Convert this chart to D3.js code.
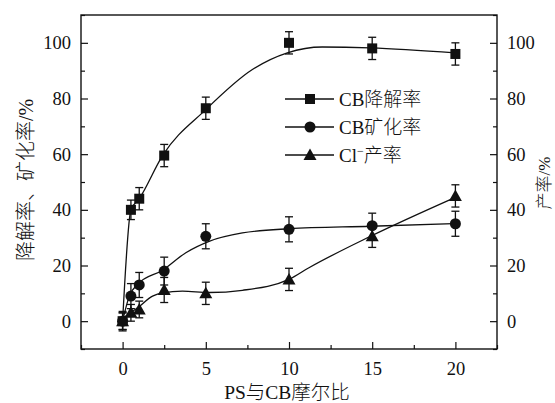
<!DOCTYPE html>
<html>
<head>
<meta charset="utf-8">
<script src="https://cdn.jsdelivr.net/npm/d3@7"></script>
<style>
  body { margin: 0; background: #fff; }
  svg text { font-family: 'Liberation Serif', 'Noto Sans CJK SC', serif; fill: #111; }
</style>
</head>
<body>
<svg id="canvas" width="555" height="403"></svg>
<script>
// Data
let ratios = [0, 0.5, 1, 2.5, 5, 10, 15, 20];
let degradation = [0, 40, 44, 59.5, 76.5, 100, 98, 96];
let degradationErr = [3, 3.5, 4, 4, 4, 4, 4, 4];
let mineral = [0, 9, 13, 18, 30.5, 33, 34.3, 35];
let mineralErr = [3.5, 4.5, 4.5, 5, 4.5, 4.5, 4.5, 4.5];
let chloride = [0, 3, 4.2, 11.2, 10, 15, 30.5, 45];
let chlorideErr = [3, 3, 3, 4.5, 4, 4, 4, 4];

// Smooth fitted curves
let degradationFitX = [0, 0.5, 1, 2.4, 5, 7.8, 9.9, 12, 14.9, 20];
let degradationFitY = [0, 40, 44, 59.5, 76, 90.4, 96.4, 98.5, 98.2, 96.4];
let mineralFitX = [0, 0.4, 0.9, 2.4, 3.8, 5.2, 7.2, 10, 14.9, 20];
let mineralFitY = [0, 9, 13.2, 18.3, 24.6, 28.7, 31.7, 33.2, 34.1, 35.1];
let chlorideFitX = [0, 0.9, 1.8, 2.4, 3.6, 5.2, 7.2, 10, 11.2, 14.9, 20];
let chlorideFitY = [1, 4.8, 9, 10.2, 10.8, 10.3, 11.1, 15, 19.2, 30.5, 44.5];

let xTicks = [0, 5, 10, 15, 20];
let xMinor = [-2.5, 2.5, 7.5, 12.5, 17.5, 22.5];
let yTicks = [0, 20, 40, 60, 80, 100];
let yMinor = [-10, 10, 30, 50, 70, 90, 110];

let legendNames = ['CB降解率', 'CB矿化率', 'Cl'];

let canvas = d3.select('#canvas');

let plotLeft = 81, plotRight = 497, plotTop = 15, plotBottom = 349;
let x = d3.scaleLinear().domain([-2.5, 22.5]).range([plotLeft, plotRight]);
let y = d3.scaleLinear().domain([-10, 110]).range([plotBottom, plotTop]);

// Axes (ticks point inward)
let addAxis = (axisFn, scale, ticks, minor, transform, labelStyle) => {
    let g = canvas.append('g').attr('transform', transform);
    g.call(axisFn(scale).tickValues(ticks).tickSizeInner(-7).tickSizeOuter(0)
        .tickPadding(10).tickFormat(d3.format('d')));
    g.select('.domain').remove();
    g.selectAll('.tick line').attr('stroke', '#111').attr('stroke-width', 1.2);
    g.selectAll('.tick text').attr('font-size', 18.5).attr('fill', '#111')
        .style('font-family', "'Liberation Serif', serif");
    if (labelStyle) labelStyle(g);
    let m = canvas.append('g').attr('transform', transform);
    m.call(axisFn(scale).tickValues(minor).tickSizeInner(-4).tickSizeOuter(0).tickFormat(''));
    m.select('.domain').remove();
    m.selectAll('.tick line').attr('stroke', '#111').attr('stroke-width', 1.2);
};

addAxis(d3.axisBottom, x, xTicks, xMinor, `translate(0,${plotBottom})`,
    (g) => g.selectAll('.tick text').attr('dy', '0.85em'));
addAxis(d3.axisLeft, y, yTicks, yMinor, `translate(${plotLeft},0)`);
addAxis(d3.axisRight, y, yTicks, yMinor, `translate(${plotRight},0)`);

// Frame
canvas.append('rect')
    .attr('x', plotLeft).attr('y', plotTop)
    .attr('width', plotRight - plotLeft).attr('height', plotBottom - plotTop)
    .attr('fill', 'none').attr('stroke', '#111').attr('stroke-width', 1.4);

// Axis titles
canvas.append('text')
    .attr('x', (plotLeft + plotRight) / 2 - 2).attr('y', 399)
    .attr('text-anchor', 'middle').attr('font-size', 19.5)
    .attr('font-weight', 300)
    .text('PS与CB摩尔比');

canvas.append('text')
    .attr('transform', 'translate(33,180) rotate(-90)')
    .attr('text-anchor', 'middle').attr('font-size', 20)
    .attr('font-weight', 300)
    .text('降解率、矿化率/%');

canvas.append('text')
    .attr('transform', 'translate(550,183) rotate(-90)')
    .attr('text-anchor', 'middle').attr('font-size', 17)
    .attr('font-weight', 300)
    .text('产率/%');

// Fitted curves
let line = d3.line()
    .x((d) => x(d[0]))
    .y((d) => y(d[1]))
    .curve(d3.curveMonotoneX);

let fits = [
    [degradationFitX, degradationFitY],
    [mineralFitX, mineralFitY],
    [chlorideFitX, chlorideFitY]
];
fits.forEach((f) => {
    canvas.append('path')
        .datum(d3.zip(f[0], f[1]))
        .attr('d', line)
        .attr('fill', 'none')
        .attr('stroke', '#111')
        .attr('stroke-width', 1.3);
});

// Markers
let drawMarker = (g, shape, cx, cy) => {
    if (shape === 'square') {
        g.append('rect').attr('x', cx - 5).attr('y', cy - 5)
            .attr('width', 10).attr('height', 10).attr('fill', '#111');
    } else if (shape === 'circle') {
        g.append('circle').attr('cx', cx).attr('cy', cy).attr('r', 5.5).attr('fill', '#111');
    } else {
        g.append('path')
            .attr('d', `M${cx},${cy - 6.5}L${cx + 6.5},${cy + 5}L${cx - 6.5},${cy + 5}Z`)
            .attr('fill', '#111');
    }
};

let series = [
    ['square', degradation, degradationErr],
    ['circle', mineral, mineralErr],
    ['triangle', chloride, chlorideErr]
];

series.forEach((s) => {
    let g = canvas.append('g');
    ratios.forEach((r, i) => {
        let cx = x(r);
        let hi = y(s[1][i] + s[2][i]);
        let lo = y(s[1][i] - s[2][i]);
        g.append('line').attr('x1', cx).attr('x2', cx).attr('y1', hi).attr('y2', lo)
            .attr('stroke', '#111').attr('stroke-width', 1.3);
        [hi, lo].forEach((yy) => {
            g.append('line').attr('x1', cx - 4).attr('x2', cx + 4).attr('y1', yy).attr('y2', yy)
                .attr('stroke', '#111').attr('stroke-width', 1.3);
        });
        drawMarker(g, s[0], cx, y(s[1][i]));
    });
});

// Legend
let legendY = [99, 127, 155];
series.forEach((s, i) => {
    let g = canvas.append('g');
    g.append('line').attr('x1', 285).attr('x2', 334)
        .attr('y1', legendY[i]).attr('y2', legendY[i])
        .attr('stroke', '#111').attr('stroke-width', 1.3);
    drawMarker(g, s[0], 310, legendY[i]);
    let t = g.append('text').attr('x', 339).attr('y', legendY[i] + 6.5).attr('font-size', 19)
        .attr('font-weight', 300)
        .text(legendNames[i]);
    if (i === 2) {
        t.append('tspan').attr('font-size', 12).attr('dy', -7).text('−');
        t.append('tspan').attr('dy', 7).text('产率');
    }
});
</script>
</body>
</html>
